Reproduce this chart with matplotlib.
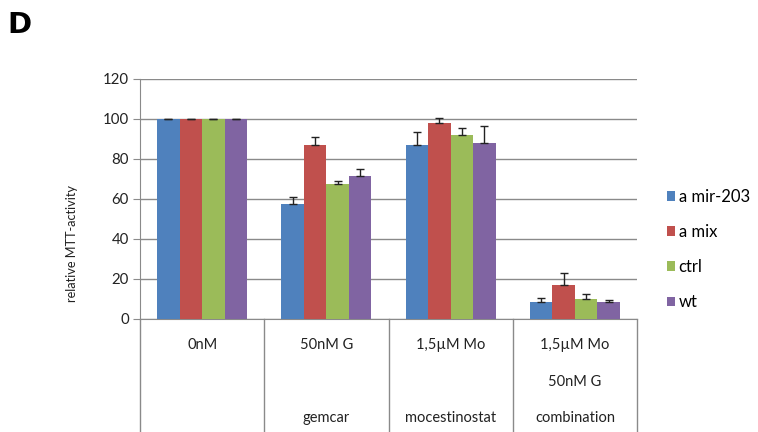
import matplotlib
matplotlib.use("Agg")
from matplotlib import pyplot as plt
import numpy as np

plt.rcParams['font.family'] = ['Lato', 'DejaVu Sans']

# data
groups = ['0nM', '50nM G', '1,5µM Mo', '1,5µM Mo\n50nM G']
group_labels = ['', 'gemcar', 'mocestinostat', 'combination']
series = ['a mir-203', 'a mix', 'ctrl', 'wt']
values = {
    'a mir-203': [100, 57.4, 87.0, 8.2],
    'a mix':     [100, 87.0, 97.8, 16.9],
    'ctrl':      [100, 67.2, 91.7, 9.7],
    'wt':        [100, 71.3, 87.7, 8.2],
}
errors = {
    'a mir-203': [0, 3.6, 6.2, 2.1],
    'a mix':     [0, 3.7, 2.7, 6.1],
    'ctrl':      [0, 1.6, 3.6, 2.5],
    'wt':        [0, 3.4, 8.6, 1.0],
}
colors = ['#4F81BD', '#C0504D', '#9BBB59', '#8064A2']
yticks = [0, 20, 40, 60, 80, 100, 120]

W, H = 758, 432
fig = plt.figure(figsize=(W/100, H/100), dpi=100)
ax = fig.add_axes([140/W, (H-318.7)/H, (637-140)/W, 240/H])

x = np.arange(len(groups)) + 0.5
bw = 0.181
for i, s in enumerate(series):
    pos = x + (i - 1.5)*bw
    ax.bar(pos, values[s], width=bw, color=colors[i], label=s, zorder=3)
    ax.errorbar(pos, values[s], yerr=[np.zeros(len(groups)), errors[s]],
                fmt='none', ecolor='#222222', elinewidth=1, capsize=3.2,
                capthick=1, zorder=4)

ax.set_xlim(0, len(groups))
ax.set_ylim(0, 120)
ax.set_yticks(yticks)
ax.tick_params(axis='y', direction='out', length=5, color='#8a8a8a',
               labelsize=10.8, pad=3, labelcolor='#222222')
ax.set_xticks([])
ax.grid(axis='y', color='#8a8a8a', lw=1, zorder=0)
ax.set_axisbelow(True)
for sp in ['top', 'right']:
    ax.spines[sp].set_visible(False)
ax.spines['left'].set_color('#8a8a8a')
ax.spines['bottom'].set_color('#8a8a8a')

# multi-level category axis below the plot
tr = ax.get_xaxis_transform()
for b in range(len(groups) + 1):
    ax.plot([b, b], [0, -0.475], transform=tr, clip_on=False,
            color='#8a8a8a', lw=1)
for i, g in enumerate(groups):
    for j, line in enumerate(g.split('\n')):
        ax.text(x[i], -0.11 - j*0.154, line, transform=tr, ha='center',
                va='center', fontsize=10.5, color='#222222')
    ax.text(x[i], -0.414, group_labels[i], transform=tr, ha='center',
            va='center', fontsize=10.5, color='#222222')

fig.text(72/W, (H-244)/H, 'relative MTT-activity', rotation=90,
         ha='center', va='center', fontsize=9.2, color='#222222')
fig.text(7/W, (H-25)/H, 'D', fontsize=21, fontweight='bold',
         family='DejaVu Sans', ha='left', va='center', color='black')

ax.legend(loc='center left', bbox_to_anchor=(667/W, (H-249.5)/H),
          bbox_transform=fig.transFigure, frameon=False, fontsize=12,
          handlelength=0.5, handleheight=0.5, handletextpad=0.2,
          labelspacing=1.15, borderpad=0, borderaxespad=0)

fig.savefig('out.png', dpi=100)
